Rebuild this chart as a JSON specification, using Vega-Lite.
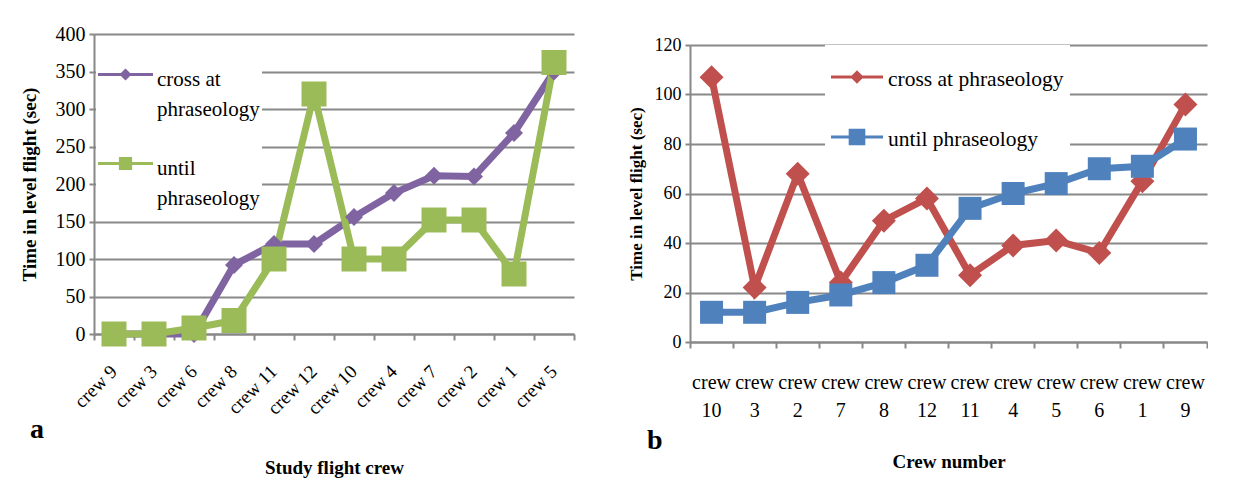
{
  "$schema": "https://vega.github.io/schema/vega-lite/v6.json",
  "background": "white",
  "padding": {"left": 20, "top": 24, "right": 0, "bottom": 0},
  "config": {
    "font": "Liberation Serif",
    "view": {"stroke": null, "fill": "white"},
    "axis": {"domainColor": "#888888", "tickColor": "#888888", "gridColor": "#888888", "domainWidth": 2, "tickWidth": 2, "gridWidth": 2, "labelFont": "Liberation Serif", "titleFont": "Liberation Serif", "labelColor": "black", "titleColor": "black"},
    "legend": {"labelFont": "Liberation Serif", "labelColor": "black"},
    "title": {"font": "Liberation Serif"}
  },
  "datasets": {
    "a": [
      {"crew": "crew 9", "series": "cross at phraseology", "seconds": 0},
      {"crew": "crew 3", "series": "cross at phraseology", "seconds": 0},
      {"crew": "crew 6", "series": "cross at phraseology", "seconds": 0},
      {"crew": "crew 8", "series": "cross at phraseology", "seconds": 92},
      {"crew": "crew 11", "series": "cross at phraseology", "seconds": 120},
      {"crew": "crew 12", "series": "cross at phraseology", "seconds": 120},
      {"crew": "crew 10", "series": "cross at phraseology", "seconds": 156},
      {"crew": "crew 4", "series": "cross at phraseology", "seconds": 188},
      {"crew": "crew 7", "series": "cross at phraseology", "seconds": 211},
      {"crew": "crew 2", "series": "cross at phraseology", "seconds": 210},
      {"crew": "crew 1", "series": "cross at phraseology", "seconds": 268},
      {"crew": "crew 5", "series": "cross at phraseology", "seconds": 350},
      {"crew": "crew 9", "series": "until phraseology", "seconds": 0},
      {"crew": "crew 3", "series": "until phraseology", "seconds": 0},
      {"crew": "crew 6", "series": "until phraseology", "seconds": 8},
      {"crew": "crew 8", "series": "until phraseology", "seconds": 18},
      {"crew": "crew 11", "series": "until phraseology", "seconds": 100},
      {"crew": "crew 12", "series": "until phraseology", "seconds": 320},
      {"crew": "crew 10", "series": "until phraseology", "seconds": 100},
      {"crew": "crew 4", "series": "until phraseology", "seconds": 100},
      {"crew": "crew 7", "series": "until phraseology", "seconds": 152},
      {"crew": "crew 2", "series": "until phraseology", "seconds": 152},
      {"crew": "crew 1", "series": "until phraseology", "seconds": 80},
      {"crew": "crew 5", "series": "until phraseology", "seconds": 362}
    ],
    "b": [
      {"crew": "crew 10", "series": "cross at phraseology", "seconds": 107},
      {"crew": "crew 3", "series": "cross at phraseology", "seconds": 22},
      {"crew": "crew 2", "series": "cross at phraseology", "seconds": 68},
      {"crew": "crew 7", "series": "cross at phraseology", "seconds": 24},
      {"crew": "crew 8", "series": "cross at phraseology", "seconds": 49},
      {"crew": "crew 12", "series": "cross at phraseology", "seconds": 58},
      {"crew": "crew 11", "series": "cross at phraseology", "seconds": 27},
      {"crew": "crew 4", "series": "cross at phraseology", "seconds": 39},
      {"crew": "crew 5", "series": "cross at phraseology", "seconds": 41},
      {"crew": "crew 6", "series": "cross at phraseology", "seconds": 36},
      {"crew": "crew 1", "series": "cross at phraseology", "seconds": 65},
      {"crew": "crew 9", "series": "cross at phraseology", "seconds": 96},
      {"crew": "crew 10", "series": "until phraseology", "seconds": 12},
      {"crew": "crew 3", "series": "until phraseology", "seconds": 12},
      {"crew": "crew 2", "series": "until phraseology", "seconds": 16},
      {"crew": "crew 7", "series": "until phraseology", "seconds": 19},
      {"crew": "crew 8", "series": "until phraseology", "seconds": 24},
      {"crew": "crew 12", "series": "until phraseology", "seconds": 31},
      {"crew": "crew 11", "series": "until phraseology", "seconds": 54},
      {"crew": "crew 4", "series": "until phraseology", "seconds": 60},
      {"crew": "crew 5", "series": "until phraseology", "seconds": 64},
      {"crew": "crew 6", "series": "until phraseology", "seconds": 70},
      {"crew": "crew 1", "series": "until phraseology", "seconds": 71},
      {"crew": "crew 9", "series": "until phraseology", "seconds": 82}
    ]
  },
  "spacing": 52,
  "resolve": {"scale": {"color": "independent", "shape": "independent"}, "legend": {"color": "independent", "shape": "independent"}},
  "hconcat": [
    {
      "width": 480,
      "height": 300,
      "data": {"name": "a"},
      "title": {"text": "a", "orient": "bottom", "anchor": "start", "frame": "bounds", "font": "Liberation Serif", "fontSize": 28, "fontWeight": "bold", "color": "black", "dx": 10, "dy": -66},
      "encoding": {
        "x": {"field": "crew", "type": "nominal",
          "sort": ["crew 9", "crew 3", "crew 6", "crew 8", "crew 11", "crew 12", "crew 10", "crew 4", "crew 7", "crew 2", "crew 1", "crew 5"],
          "scale": {"type": "band", "paddingInner": 0, "paddingOuter": 0},
          "axis": {"title": "Study flight crew", "titleFont": "Liberation Serif", "titleFontSize": 19, "titleFontWeight": "bold", "titlePadding": 41, "labelFont": "Liberation Serif", "labelAngle": -45, "labelAlign": "right", "labelBaseline": "middle", "labelFontSize": 19, "labelPadding": 28, "tickSize": 6, "bandPosition": 1, "tickExtra": true, "labelOverlap": false, "grid": false}},
        "y": {"field": "seconds", "type": "quantitative",
          "scale": {"domain": [0, 400], "nice": false},
          "axis": {"title": "Time in level flight (sec)", "titleFont": "Liberation Serif", "titleFontSize": 19, "titleFontWeight": "bold", "titlePadding": 16, "values": [0, 50, 100, 150, 200, 250, 300, 350, 400], "labelFont": "Liberation Serif", "labelFontSize": 20, "labelPadding": 4, "tickSize": 5, "grid": true}},
        "color": {"field": "series", "type": "nominal",
          "scale": {"domain": ["cross at phraseology", "until phraseology"], "range": ["#8064A2", "#9BBB59"]},
          "legend": {"title": null, "orient": "none", "legendX": 2, "legendY": 11, "fillColor": "white", "padding": 2, "rowPadding": 16, "labelFont": "Liberation Serif", "labelFontSize": 21, "labelOffset": 4, "labelLimit": 0, "symbolSize": 3025, "symbolOpacity": 1, "symbolStrokeWidth": 0,
            "labelExpr": "datum.label === 'cross at phraseology' ? ['cross at', 'phraseology  '] : ['until', 'phraseology  ']",
            "encode": {"labels": {"update": {"lineHeight": {"value": 30}, "dy": {"value": 5}}}}}}
      },
      "layer": [
        {"mark": {"type": "point", "filled": true, "opacity": 0},
          "encoding": {
            "shape": {"field": "series", "type": "nominal",
              "scale": {"domain": ["cross at phraseology", "until phraseology"], "range": ["M-1,-0.055H1V0.055H-1Z M0,-0.22L0.22,0L0,0.22L-0.22,0Z", "M-1,-0.055H1V0.055H-1Z M-0.24,-0.24H0.24V0.24H-0.24Z"]},
              "legend": {"title": null, "orient": "none", "legendX": 2, "legendY": 11, "fillColor": "white", "padding": 2, "rowPadding": 16, "labelFont": "Liberation Serif", "labelFontSize": 21, "labelOffset": 4, "labelLimit": 0, "symbolSize": 3025, "symbolOpacity": 1, "symbolStrokeWidth": 0,
                "labelExpr": "datum.label === 'cross at phraseology' ? ['cross at', 'phraseology  '] : ['until', 'phraseology  ']",
                "encode": {"labels": {"update": {"lineHeight": {"value": 30}, "dy": {"value": 5}}}}}}
          }},
        {"mark": {"type": "line", "strokeWidth": 7}, "encoding": {"order": {"value": null}}},
        {"transform": [{"filter": {"field": "series", "equal": "cross at phraseology"}}],
          "mark": {"type": "point", "filled": true, "opacity": 1, "shape": "diamond", "size": 324}},
        {"transform": [{"filter": {"field": "series", "equal": "until phraseology"}}],
          "mark": {"type": "point", "filled": true, "opacity": 1, "shape": "square", "size": 625}}
      ]
    },
    {
      "spacing": 1,
      "vconcat": [
        {"width": 1, "height": 1, "data": {"values": []}, "mark": "point", "encoding": {}},
        {
          "width": 517,
          "height": 297,
          "data": {"name": "b"},
          "title": {"text": "b", "orient": "bottom", "anchor": "start", "frame": "bounds", "font": "Liberation Serif", "fontSize": 28, "fontWeight": "bold", "color": "black", "dx": 20, "dy": -48},
          "encoding": {
            "x": {"field": "crew", "type": "nominal",
              "sort": ["crew 10", "crew 3", "crew 2", "crew 7", "crew 8", "crew 12", "crew 11", "crew 4", "crew 5", "crew 6", "crew 1", "crew 9"],
              "scale": {"type": "band", "paddingInner": 0, "paddingOuter": 0},
              "axis": {"title": "Crew number", "titleFont": "Liberation Serif", "titleFontSize": 19, "titleFontWeight": "bold", "titlePadding": 32, "labelFont": "Liberation Serif", "labelAngle": 0, "labelExpr": "split(datum.label, ' ')", "labelLineHeight": 28, "labelFontSize": 20, "labelPadding": 24, "tickSize": 6, "bandPosition": 1, "tickExtra": true, "labelOverlap": false, "labelLimit": 0, "grid": false}},
            "y": {"field": "seconds", "type": "quantitative",
              "scale": {"domain": [0, 120], "nice": false},
              "axis": {"title": "Time in level flight (sec)", "titleFont": "Liberation Serif", "titleFontSize": 17, "titleFontWeight": "bold", "titlePadding": 9, "values": [0, 20, 40, 60, 80, 100, 120], "labelFont": "Liberation Serif", "labelFontSize": 18, "labelPadding": 4, "tickSize": 5, "grid": true}},
            "color": {"field": "series", "type": "nominal",
              "scale": {"domain": ["cross at phraseology", "until phraseology"], "range": ["#C0504D", "#4F81BD"]},
              "legend": {"title": null, "orient": "none", "legendX": 135, "legendY": 11, "fillColor": "white", "padding": 6, "rowPadding": 20, "labelFont": "Liberation Serif", "labelFontSize": 21.5, "labelOffset": 5, "labelLimit": 0, "symbolSize": 2704, "symbolOpacity": 1, "symbolStrokeWidth": 0,
                "encode": {"labels": {"update": {"dy": {"value": 3}}}}}}
          },
          "layer": [
            {"mark": {"type": "point", "filled": true, "opacity": 0},
              "encoding": {
                "shape": {"field": "series", "type": "nominal",
                  "scale": {"domain": ["cross at phraseology", "until phraseology"], "range": ["M-1,-0.06H1V0.06H-1Z M0,-0.26L0.26,0L0,0.26L-0.26,0Z", "M-1,-0.06H1V0.06H-1Z M-0.32,-0.32H0.32V0.32H-0.32Z"]},
                  "legend": {"title": null, "orient": "none", "legendX": 135, "legendY": 11, "fillColor": "white", "padding": 6, "rowPadding": 20, "labelFont": "Liberation Serif", "labelFontSize": 21.5, "labelOffset": 5, "labelLimit": 0, "symbolSize": 2704, "symbolOpacity": 1, "symbolStrokeWidth": 0,
                    "encode": {"labels": {"update": {"dy": {"value": 3}}}}}}
              }},
            {"mark": {"type": "line", "strokeWidth": 7}, "encoding": {"order": {"value": null}}},
            {"transform": [{"filter": {"field": "series", "equal": "cross at phraseology"}}],
              "mark": {"type": "point", "filled": true, "opacity": 1, "shape": "diamond", "size": 576}},
            {"transform": [{"filter": {"field": "series", "equal": "until phraseology"}}],
              "mark": {"type": "point", "filled": true, "opacity": 1, "shape": "square", "size": 529}}
          ]
        }
      ]
    }
  ]
}
